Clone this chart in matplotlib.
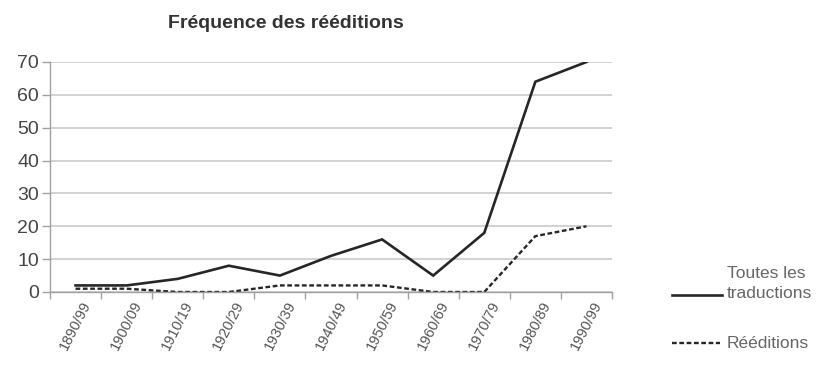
import matplotlib
matplotlib.use("Agg")
import matplotlib.pyplot as plt
from matplotlib.lines import Line2D

# Decades and counts of translations / re-editions
decades = ["1890/99", "1900/09", "1910/19", "1920/29", "1930/39", "1940/49",
           "1950/59", "1960/69", "1970/79", "1980/89", "1990/99"]
toutes = [2, 2, 4, 8, 5, 11, 16, 5, 18, 64, 70]
reeditions = [1, 1, 0, 0, 2, 2, 2, 0, 0, 17, 20]
y_ticks = [0, 10, 20, 30, 40, 50, 60, 70]

plt.rcParams["font.family"] = ["Liberation Sans", "DejaVu Sans"]

fig = plt.figure(figsize=(8.21, 3.72), dpi=100)
ax = fig.add_axes([50 / 821, 80 / 372, 562 / 821, 230 / 372])

x = list(range(len(decades)))
line_c = "#262626"
dash = (0, (2.0, 1.1))
ax.plot(x, toutes, color=line_c, lw=1.9, solid_joinstyle="miter")
ax.plot(x, reeditions, color=line_c, lw=1.7, linestyle=dash)

ax.set_xlim(-0.5, len(decades) - 0.5)
ax.set_ylim(0, 70)
ax.set_yticks(y_ticks)
ax.set_yticklabels([str(v) for v in y_ticks])
ax.yaxis.grid(True, color="#c9c9c9", lw=1.2)
ax.set_axisbelow(True)

# Category labels centred under each point, boundary tick marks between them
ax.set_xticks(x)
ax.set_xticklabels(decades, rotation=63, ha="center", va="top",
                   fontsize=10.5, color="#555555")
ax.set_xticks([i - 0.5 for i in range(len(decades) + 1)], minor=True)
ax.tick_params(axis="x", which="major", length=0, pad=5)
ax.tick_params(axis="x", which="minor", length=5, color="#a0a0a0", width=1)
ax.tick_params(axis="y", length=6, color="#a0a0a0", width=1,
               labelsize=14, labelcolor="#454545", pad=2)

for side in ("top", "right"):
    ax.spines[side].set_visible(False)
for side in ("left", "bottom"):
    ax.spines[side].set_color("#a0a0a0")
    ax.spines[side].set_linewidth(1)

fig.text(286 / 821, 1 - 23 / 372, "Fréquence des rééditions",
         ha="center", va="center", fontsize=14, fontweight="bold",
         color="#333333")

# Legend drawn in figure coordinates at the right side
def fx(px):
    return px / 821

def fy(py):
    return 1 - py / 372

leg_c = "#666666"
fig.add_artist(Line2D([fx(672), fx(722)], [fy(295), fy(295)],
                      color=line_c, lw=1.9))
fig.text(fx(727), fy(273), "Toutes les", ha="left", va="center",
         fontsize=12.5, color=leg_c)
fig.text(fx(727), fy(294), "traductions", ha="left", va="center",
         fontsize=12.5, color=leg_c)
fig.add_artist(Line2D([fx(672), fx(720)], [fy(343), fy(343)],
                      color=line_c, lw=1.7, linestyle=dash))
fig.text(fx(727), fy(343), "Rééditions", ha="left", va="center",
         fontsize=12.5, color=leg_c)

fig.savefig("out.png", dpi=100, facecolor="white")
